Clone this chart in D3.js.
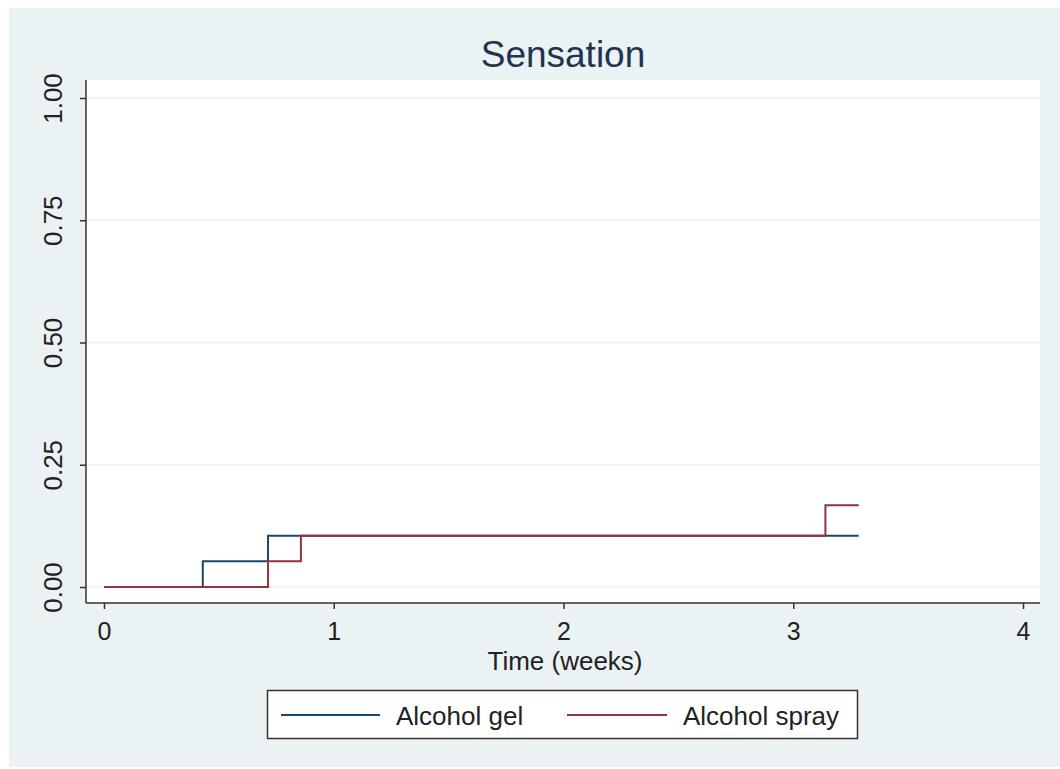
<!DOCTYPE html>
<html><head><meta charset="utf-8">
<script src="https://cdn.jsdelivr.net/npm/d3@7"></script>
<style>body{margin:0;background:#fff}svg{display:block}text{font-family:"Liberation Sans",Arial,sans-serif}</style>
</head><body><svg id="c" width="1060" height="769"></svg>
<script>
const title = "Sensation";
const xLabel = "Time (weeks)";
const xTicks = [0, 1, 2, 3, 4];
const yTicks = [0, 0.25, 0.5, 0.75, 1];
const seriesNames = ["Alcohol gel", "Alcohol spray"];
const gelTime = [0, 0.43, 0.714, 3.285];
const gelValue = [0, 0.0526, 0.105, 0.105];
const sprayTime = [0, 0.714, 0.857, 3.14, 3.285];
const sprayValue = [0, 0.0526, 0.105, 0.167, 0.167];
const colors = ["#1a476f", "#90353b"];

const svg = d3.select("#c");
svg.append("rect").attr("x", 9).attr("y", 8).attr("width", 1051).attr("height", 759).attr("fill", "#eaf2f3");
const L = 86, R = 1040, T = 80, B = 603;
svg.append("rect").attr("x", L).attr("y", T).attr("width", R - L).attr("height", B - T).attr("fill", "#fff");

const x = d3.scaleLinear().domain([0, 4]).range([104, 1023]);
const y = d3.scaleLinear().domain([0, 1]).range([587, 98]);

// gridlines
svg.append("g").selectAll("line").data(yTicks).join("line")
  .attr("x1", L).attr("x2", R).attr("y1", d => y(d)).attr("y2", d => y(d))
  .attr("stroke", "#eaf2f3").attr("stroke-width", 1.5);

// series
const line = d3.line().x(d => x(d[0])).y(d => y(d[1])).curve(d3.curveStepAfter);
const gel = gelTime.map((t, i) => [t, gelValue[i]]);
const spray = sprayTime.map((t, i) => [t, sprayValue[i]]);
[gel, spray].forEach((s, i) => {
  svg.append("path").attr("d", line(s)).attr("fill", "none")
    .attr("stroke", colors[i]).attr("stroke-width", 2);
});

// axes
const yAxis = svg.append("g").attr("transform", `translate(${L},0)`)
  .call(d3.axisLeft(y).tickValues(yTicks).tickFormat(d3.format(".2f")).tickSize(6).tickSizeOuter(0));
yAxis.select(".domain").attr("d", `M0,${T}V${B}`).attr("stroke", "#333").attr("stroke-width", 1.5);
yAxis.selectAll(".tick line").attr("stroke", "#333").attr("stroke-width", 1.5);
yAxis.selectAll(".tick text").attr("transform", "rotate(-90)").attr("x", 0).attr("y", -33)
  .attr("dy", "0.35em").attr("text-anchor", "middle").attr("font-size", 26).attr("fill", "#222");

const xAxis = svg.append("g").attr("transform", `translate(0,${B})`)
  .call(d3.axisBottom(x).tickValues(xTicks).tickFormat(d3.format("d")).tickSize(6).tickSizeOuter(0));
xAxis.select(".domain").attr("d", `M${L},0H${R}`).attr("stroke", "#333").attr("stroke-width", 1.5);
xAxis.selectAll(".tick line").attr("stroke", "#333").attr("stroke-width", 1.5);
xAxis.selectAll(".tick text").attr("y", 37).attr("dy", 0).attr("font-size", 25).attr("fill", "#222");

svg.append("text").attr("x", 565).attr("y", 670).attr("text-anchor", "middle")
  .attr("font-size", 26).attr("fill", "#222").text(xLabel);
svg.append("text").attr("x", 563).attr("y", 67).attr("text-anchor", "middle")
  .attr("font-size", 37).attr("fill", "#1e3550").text(title);

// legend
svg.append("rect").attr("x", 267.5).attr("y", 690.5).attr("width", 590).attr("height", 48)
  .attr("fill", "#fff").attr("stroke", "#333").attr("stroke-width", 1.5);
const legX = [[281, 380, 396], [567, 667, 683]];
seriesNames.forEach((n, i) => {
  svg.append("line").attr("x1", legX[i][0]).attr("x2", legX[i][1]).attr("y1", 715).attr("y2", 715)
    .attr("stroke", colors[i]).attr("stroke-width", 2);
  svg.append("text").attr("x", legX[i][2]).attr("y", 725).attr("font-size", 26).attr("fill", "#222").text(n);
});
</script></body></html>
